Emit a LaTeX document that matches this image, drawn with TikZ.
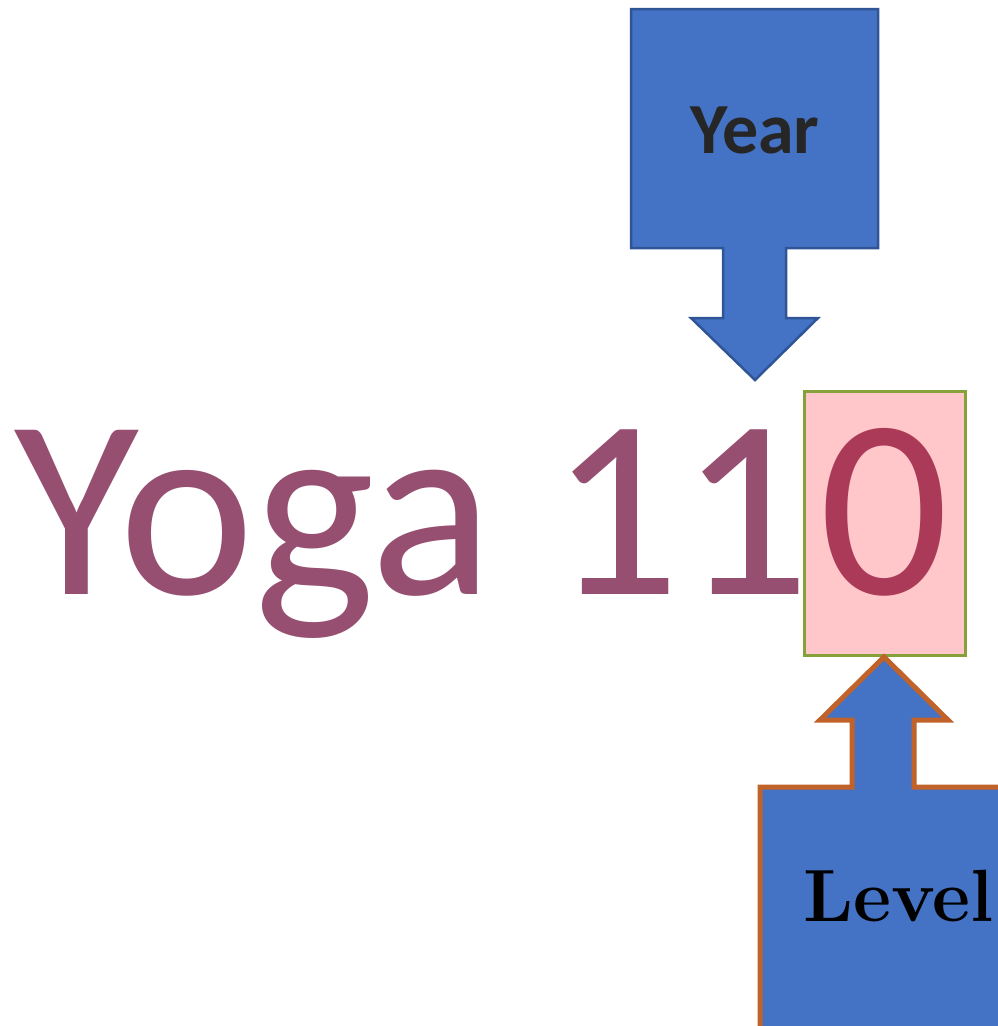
\documentclass[tikz,border=0pt]{standalone}
\usepackage{fontspec}
\newfontfamily\calibri{Carlito}
\definecolor{boxblue}{HTML}{4472C4}
\definecolor{edgeblue}{HTML}{2F5597}
\definecolor{edgeorange}{HTML}{C0622A}
\definecolor{plum}{HTML}{964F71}
\definecolor{zerored}{HTML}{AB3A58}
\definecolor{pinkfill}{HTML}{FFC7C9}
\definecolor{olive}{HTML}{86A03A}
\definecolor{darktext}{HTML}{262626}
\tikzset{
  yearcallout/.style={fill=boxblue, draw=edgeblue, line width=2.5pt, line join=miter},
  levelcallout/.style={fill=boxblue, draw=edgeorange, line width=5pt, line join=miter},
  digitbox/.style={fill=pinkfill, draw=olive, line width=3pt},
}
\begin{document}
\begin{tikzpicture}[x=1pt,y=-1pt]
\useasboundingbox (0,0) rectangle (998,1026);
\clip (0,0) rectangle (998,1026);
% Year callout
\draw[yearcallout] (631,9) -- (878,9) -- (878,248) -- (786,248) -- (786,318) -- (818,318)
  -- (755,380) -- (691,318) -- (723,318) -- (723,248) -- (631,248) -- cycle;
\node[anchor=base, inner sep=0pt, text=darktext, font=\calibri\bfseries\fontsize{72}{80}\selectfont] (year) at (755,153) {Year};
% digit box
\node[digitbox, minimum width=161pt, minimum height=264pt, inner sep=0pt] (box) at (884.5,523) {};
% main text
\node[anchor=base west, inner sep=0pt, text=plum, font=\calibri\fontsize{256}{300}\selectfont] (yoga) at (14,594) {Yoga 11};
\node[anchor=base, inner sep=0pt, text=zerored, font=\calibri\fontsize{256}{300}\selectfont] (zero) at (884,594) {0};
% Level callout
\draw[levelcallout] (760,1040) -- (760,787) -- (852,787) -- (852,720) -- (820,720) -- (884,657)
  -- (948,720) -- (914,720) -- (914,787) -- (1010,787) -- (1010,1040) -- cycle;
\node[anchor=base west, inner sep=0pt, text=black, font=\bfseries\fontsize{74}{80}\selectfont] (level) at (803,921) {Level};
\end{tikzpicture}
\end{document}
